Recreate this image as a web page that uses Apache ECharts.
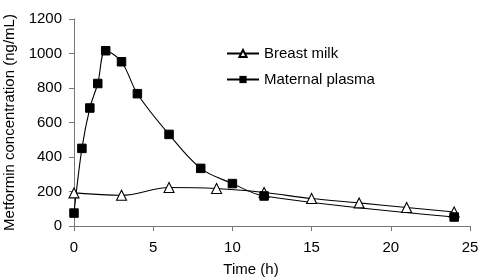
<!DOCTYPE html>
<html><head><meta charset="utf-8">
<script src="https://cdn.jsdelivr.net/npm/echarts@6/dist/echarts.min.js"></script>
<style>html,body{margin:0;padding:0;background:#fff}#c{width:480px;height:278px}</style>
</head><body><div id="c"></div>
<script>
var milkTimes = [0, 3, 6, 9, 12, 15, 18, 21, 24];
var milkValues = [192, 178, 223, 217, 194, 159, 134, 107, 81];
var plasmaTimes = [0, 0.5, 1, 1.5, 2, 3, 4, 6, 8, 10, 12, 24];
var plasmaValues = [75, 450, 684, 826, 1016, 952, 767, 531, 334, 246, 174, 52];
var xTicks = [0, 5, 10, 15, 20, 25];
var yTicks = [0, 200, 400, 600, 800, 1000, 1200];

function pairs(t, v){ return t.map(function(x,i){return [x, v[i]];}); }
var font = 'Liberation Sans, Arial, sans-serif';
var chart = echarts.init(document.getElementById('c'));
chart.setOption({
  animation: false,
  backgroundColor: '#fff',
  grid: {left: 74, right: 10, top: 19, bottom: 52, containLabel: false, outerBoundsMode: 'none'},
  legend: {
    orient: 'vertical', left: 221, top: 41, itemGap: 11,
    itemWidth: 32, itemHeight: 9,
    textStyle: {fontFamily: font, fontSize: 15, color: '#000'},
    data: ['Breast milk', 'Maternal plasma']
  },
  xAxis: {
    type: 'value', min: 0, max: 25, interval: 5,
    name: 'Time (h)', nameLocation: 'middle', nameGap: 36,
    nameTextStyle: {fontFamily: font, fontSize: 15, color: '#000', padding: [0, 42, 0, 0]},
    axisLine: {lineStyle: {color: '#777'}},
    axisTick: {show: true, length: 5, lineStyle: {color: '#777'}},
    splitLine: {show: false},
    axisLabel: {fontFamily: font, fontSize: 15, color: '#000', margin: 14,
      formatter: function(v){ return xTicks.indexOf(v) >= 0 ? String(v) : ''; }}
  },
  yAxis: {
    type: 'value', min: 0, max: 1200, interval: 200,
    name: 'Metformin concentration (ng/mL)', nameLocation: 'middle', nameGap: 57,
    nameTextStyle: {fontFamily: font, fontSize: 15, color: '#000'},
    axisLine: {show: true, lineStyle: {color: '#777'}},
    axisTick: {show: true, length: 5, lineStyle: {color: '#777'}},
    splitLine: {show: false},
    axisLabel: {fontFamily: font, fontSize: 15, color: '#000', margin: 12,
      formatter: function(v){ return yTicks.indexOf(v) >= 0 ? String(v) : ''; }}
  },
  series: [
    {
      name: 'Breast milk', type: 'line', smooth: 0.35,
      data: pairs(milkTimes, milkValues),
      symbol: 'triangle', symbolSize: 10,
      lineStyle: {color: '#000', width: 1.1},
      itemStyle: {color: '#fff', borderColor: '#000', borderWidth: 1.1}
    },
    {
      name: 'Maternal plasma', type: 'line', smooth: 0.35,
      data: pairs(plasmaTimes, plasmaValues),
      symbol: 'rect', symbolSize: 8.5,
      lineStyle: {color: '#000', width: 1.1},
      itemStyle: {color: '#000', borderColor: '#000'}
    }
  ]
});
</script></body></html>
